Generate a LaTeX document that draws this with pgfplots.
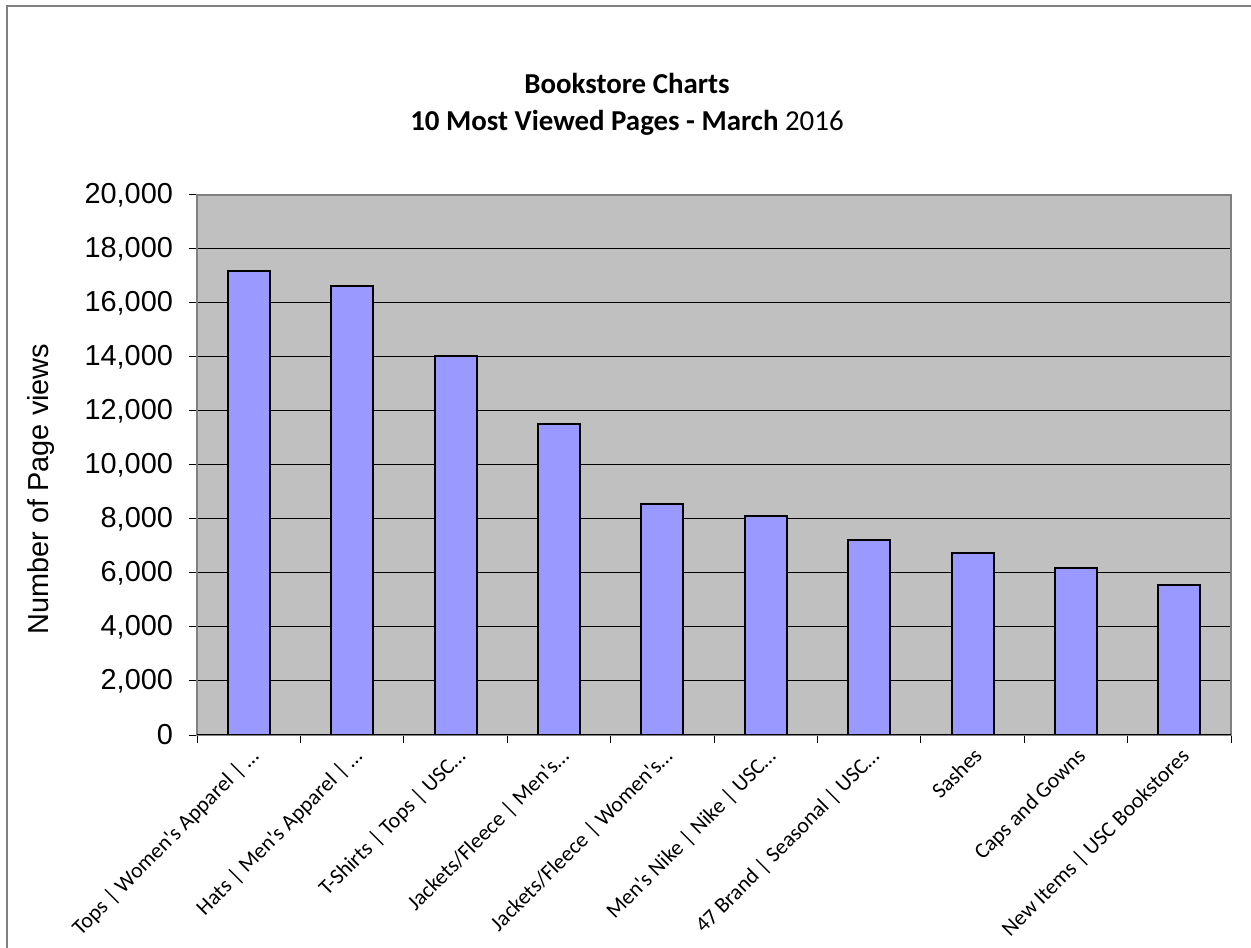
\documentclass[border=0pt]{standalone}
\usepackage{pgfplots}
\pgfplotsset{compat=1.18}
\usepackage{fontspec}
\setmainfont{Carlito}
\newfontfamily\arial{Liberation Sans}
\definecolor{barfill}{HTML}{9999FF}
\definecolor{plotbg}{HTML}{C0C0C0}
\definecolor{framegray}{HTML}{808080}

\begin{document}
\begin{tikzpicture}
\path[use as bounding box] (0,0) rectangle (625.5bp,474bp);
\draw[framegray, line width=1bp] (3.5bp,0) -- (3.5bp,471bp) -- (625.5bp,471bp);
\begin{axis}[
  at={(98.5bp,106.5bp)}, anchor=south west,
  scale only axis, width=517bp, height=270bp,
  xmin=0.5, xmax=10.5, ymin=0, ymax=20000,
  ytick={0,2000,...,20000},
  scaled y ticks=false,
  xtick pos=bottom, ytick pos=left,
  xtick={0.5,1.5,...,10.5},
  xticklabels={},
  extra x ticks={1,2,3,4,5,6,7,8,9,10},
  extra x tick labels={
    Tops | Women\textquotesingle s Apparel | …,
    Hats | Men\textquotesingle s Apparel | …,
    T-Shirts | Tops | USC…,
    Jackets/Fleece | Men\textquotesingle s…,
    Jackets/Fleece | Women\textquotesingle s…,
    Men\textquotesingle s Nike | Nike | USC…,
    47 Brand | Seasonal | USC…,
    Sashes,
    Caps and Gowns,
    New Items | USC Bookstores},
  extra x tick style={tick style={draw=none}, grid=none},
  tick align=outside,
  major tick length=4bp,
  tick style={black, line width=0.5bp},
  ymajorgrids,
  grid style={black, line width=0.5bp},
  axis background/.style={fill=plotbg},
  axis line style={framegray, line width=1bp},
  yticklabel style={font=\arial\fontsize{14.5}{16}\selectfont, xshift=-4.5bp,
    /pgf/number format/1000 sep={,},
    /pgf/number format/assume math mode=true},
  x tick label style={rotate=45, anchor=north east,
    font=\fontsize{11}{12}\selectfont, inner sep=1bp},
  ybar, bar width=21bp,
]
\addplot[ybar, bar shift=0pt, fill=barfill, draw=black, line width=1bp]
  coordinates {(1,17190) (2,16630) (3,14030) (4,11530) (5,8560)
               (6,8110) (7,7230) (8,6740) (9,6200) (10,5540)};
\draw[black, line width=1bp] (rel axis cs:0,0) -- (rel axis cs:1,0);
\end{axis}
\node[font=\bfseries\fontsize{14.5}{18.5}\selectfont, align=center]
  at (313.5bp,422bp) {Bookstore Charts\\10 Most Viewed Pages - March {\mdseries 2016}};
\node[rotate=90, font=\arial\fontsize{14.5}{16}\selectfont] at (20.5bp,229.5bp) {Number of Page views};
\end{tikzpicture}
\end{document}
